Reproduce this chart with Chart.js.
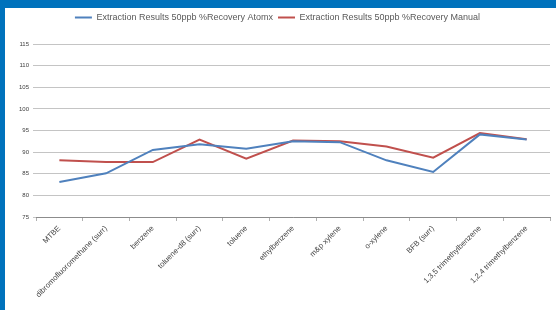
<!DOCTYPE html>
<html>
<head>
<meta charset="utf-8">
<script src="https://cdn.jsdelivr.net/npm/chart.js@4/dist/chart.umd.min.js"></script>
<style>
  html, body { margin: 0; padding: 0; background: #ffffff; width: 556px; height: 310px; overflow: hidden; }
  #topbar { position: absolute; left: 0; top: 0; width: 556px; height: 8px; background: #0072BC; }
  #leftbar { position: absolute; left: 0; top: 0; width: 5px; height: 310px; background: #0072BC; }
  #wrap { position: absolute; left: 5px; top: 8px; width: 551px; height: 302px; }
</style>
</head>
<body>
<div id="topbar"></div>
<div id="leftbar"></div>
<div id="wrap"><canvas id="c" width="551" height="302"></canvas></div>
<script>
const categories = [
  "MTBE",
  "dibromofluoromethane (surr)",
  "benzene",
  "toluene-d8 (surr)",
  "toluene",
  "ethylbenzene",
  "m&p xylene",
  "o-xylene",
  "BFB (surr)",
  "1,3,5 trimethylbenzene",
  "1,2,4 trimethylbenzene"
];
const atomxValues = [83.1, 85.1, 90.5, 91.8, 90.8, 92.5, 92.3, 88.1, 85.4, 94.1, 92.9];
const manualValues = [88.1, 87.7, 87.7, 92.9, 88.5, 92.7, 92.5, 91.3, 88.7, 94.4, 93.0];
const seriesNames = [
  "Extraction Results 50ppb %Recovery Atomx",
  "Extraction Results 50ppb %Recovery Manual"
];
const yMin = 75, yMax = 115, yStep = 5;

const legendSpacing = {
  id: 'legendSpacing',
  beforeInit(chart) {
    const fit = chart.legend.fit;
    chart.legend.fit = function () {
      fit.bind(chart.legend)();
      this.height += 12;
    };
  }
};

new Chart(document.getElementById('c'), {
  type: 'line',
  data: {
    labels: categories,
    datasets: [
      { label: seriesNames[0], data: atomxValues, borderColor: '#4F81BD', backgroundColor: '#4F81BD',
        borderWidth: 2, pointRadius: 0, tension: 0, fill: false },
      { label: seriesNames[1], data: manualValues, borderColor: '#C0504D', backgroundColor: '#C0504D',
        borderWidth: 2, pointRadius: 0, tension: 0, fill: false }
    ]
  },
  plugins: [legendSpacing],
  options: {
    responsive: false,
    animation: false,
    devicePixelRatio: 1,
    layout: { padding: { left: 0, right: 6, top: 0, bottom: 0 } },
    plugins: {
      legend: {
        position: 'top',
        labels: {
          usePointStyle: true,
          pointStyle: 'line',
          pointStyleWidth: 17,
          color: '#595959',
          font: { family: 'Liberation Sans', size: 9 },
          padding: 5
        }
      },
      tooltip: { enabled: false }
    },
    scales: {
      x: {
        offset: true,
        grid: { display: true, drawOnChartArea: false, offset: true, tickLength: 4, color: '#b0b0b0' },
        border: { display: true, color: '#8c8c8c', width: 1 },
        ticks: {
          autoSkip: false, maxRotation: 45, minRotation: 45,
          color: '#404040', font: { family: 'Liberation Sans', size: 7.7 }, padding: 3
        },
        afterFit: (s) => { s.height = 93; }
      },
      y: {
        min: yMin, max: yMax,
        ticks: { stepSize: yStep, color: '#404040', font: { family: 'Liberation Sans', size: 6 }, padding: 4 },
        grid: { color: '#c4c4c4', lineWidth: 1, tickLength: 3 },
        border: { display: false },
        afterFit: (s) => { s.width = 31; }
      }
    }
  }
});
</script>
</body>
</html>
